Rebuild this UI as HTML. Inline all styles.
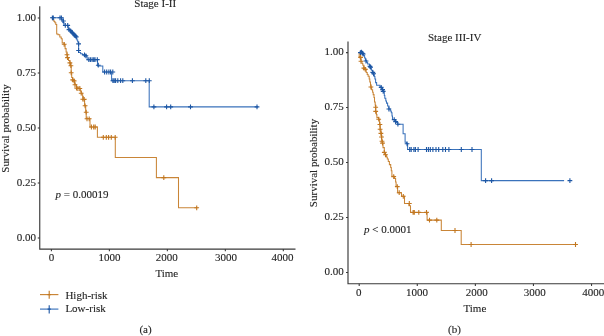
<!DOCTYPE html>
<html><head><meta charset="utf-8"><title>Survival curves</title>
<style>html,body{margin:0;padding:0;background:#fff;}svg{display:block;will-change:transform;}</style>
</head><body>
<svg width="604" height="336" viewBox="0 0 604 336">
<rect width="604" height="336" fill="#fff"/>
<g font-family="Liberation Serif, serif" font-size="11" fill="#262626" stroke="#262626" stroke-width="0.12">
<path d="M39.75 6.3 V249.1 H295.5" stroke="#3a3a3a" stroke-width="1.15" fill="none"/>
<path d="M37.75 238H39.75" stroke="#3a3a3a" stroke-width="1.1"/>
<text x="36" y="240.5" text-anchor="end">0.00</text>
<path d="M37.75 183H39.75" stroke="#3a3a3a" stroke-width="1.1"/>
<text x="36" y="185.5" text-anchor="end">0.25</text>
<path d="M37.75 128H39.75" stroke="#3a3a3a" stroke-width="1.1"/>
<text x="36" y="130.5" text-anchor="end">0.50</text>
<path d="M37.75 73H39.75" stroke="#3a3a3a" stroke-width="1.1"/>
<text x="36" y="75.5" text-anchor="end">0.75</text>
<path d="M37.75 18H39.75" stroke="#3a3a3a" stroke-width="1.1"/>
<text x="36" y="20.5" text-anchor="end">1.00</text>
<path d="M51.4 249.1V251.3" stroke="#3a3a3a" stroke-width="1.1"/>
<text x="51.4" y="261.4" text-anchor="middle">0</text>
<path d="M109.38 249.1V251.3" stroke="#3a3a3a" stroke-width="1.1"/>
<text x="109.38" y="261.4" text-anchor="middle">1000</text>
<path d="M167.36 249.1V251.3" stroke="#3a3a3a" stroke-width="1.1"/>
<text x="166.76" y="261.4" text-anchor="middle">2000</text>
<path d="M225.34 249.1V251.3" stroke="#3a3a3a" stroke-width="1.1"/>
<text x="225.89" y="261.4" text-anchor="middle">3000</text>
<path d="M283.32 249.1V251.3" stroke="#3a3a3a" stroke-width="1.1"/>
<text x="282.57" y="261.4" text-anchor="middle">4000</text>
<path d="M348 41.5 V283.75 H605" stroke="#3a3a3a" stroke-width="1.15" fill="none"/>
<path d="M346 272.5H348" stroke="#3a3a3a" stroke-width="1.1"/>
<text x="343.7" y="275" text-anchor="end">0.00</text>
<path d="M346 217.53H348" stroke="#3a3a3a" stroke-width="1.1"/>
<text x="343.7" y="220.03" text-anchor="end">0.25</text>
<path d="M346 162.55H348" stroke="#3a3a3a" stroke-width="1.1"/>
<text x="343.7" y="165.05" text-anchor="end">0.50</text>
<path d="M346 107.57H348" stroke="#3a3a3a" stroke-width="1.1"/>
<text x="343.7" y="110.07" text-anchor="end">0.75</text>
<path d="M346 52.6H348" stroke="#3a3a3a" stroke-width="1.1"/>
<text x="343.7" y="55.1" text-anchor="end">1.00</text>
<path d="M359.2 283.75V285.95" stroke="#3a3a3a" stroke-width="1.1"/>
<text x="358.8" y="295.9" text-anchor="middle">0</text>
<path d="M417.28 283.75V285.95" stroke="#3a3a3a" stroke-width="1.1"/>
<text x="416.88" y="295.9" text-anchor="middle">1000</text>
<path d="M475.36 283.75V285.95" stroke="#3a3a3a" stroke-width="1.1"/>
<text x="476.86" y="295.9" text-anchor="middle">2000</text>
<path d="M533.44 283.75V285.95" stroke="#3a3a3a" stroke-width="1.1"/>
<text x="534.84" y="295.9" text-anchor="middle">3000</text>
<path d="M591.52 283.75V285.95" stroke="#3a3a3a" stroke-width="1.1"/>
<text x="593.22" y="295.9" text-anchor="middle">4000</text>
<text x="134.3" y="6.6">Stage I-II</text>
<text x="427.9" y="41.3">Stage III-IV</text>
<text x="166.8" y="277" text-anchor="middle">Time</text>
<text x="474.9" y="311.8" text-anchor="middle">Time</text>
<text transform="translate(9.4 128.5) rotate(-90)" text-anchor="middle">Survival probability</text>
<text transform="translate(317.4 163) rotate(-90)" text-anchor="middle">Survival probability</text>
<text x="55.5" y="197.9"><tspan font-style="italic">p</tspan> = 0.00019</text>
<text x="364" y="232.9"><tspan font-style="italic">p</tspan> &lt; 0.0001</text>
<text x="145.5" y="333.2" text-anchor="middle">(a)</text>
<text x="454.5" y="333.2" text-anchor="middle">(b)</text>
<text x="65.4" y="298.8">High-risk</text>
<text x="65.4" y="311.5">Low-risk</text>
</g>
<path d="M40 294.6H58.4" stroke="#c98537" stroke-width="1.15" fill="none"/>
<path d="M49.2 290.8V298.7M47.6 294.6H50.8" stroke="#c27720" stroke-width="1.1" fill="none"/>
<path d="M40 309.1H58.4" stroke="#3a72bb" stroke-width="1.15" fill="none"/>
<path d="M49.2 305.2V313.4M47.6 309.1H50.8" stroke="#1c56a4" stroke-width="1.1" fill="none"/>
<g fill="none" stroke-linejoin="miter" stroke-linecap="butt">
<path d="M51.4 17.8 H53 V20 H54 V21.4 H54.9 V22.7 H55.8 V24.5 H56.7 V33.9 H58 V34.8 H59.8 V37 H61.2 V38.8 H62.2 V42.9 H64.2 V44.6 H65.1 V48.6 H66.1 V51.9 H67 V54.8 H67.5 V57.6 H68.5 V60.5 H69.9 V62.9 H70.6 V65.7 H71.2 V72.8 H71.7 V77.5 H72.7 V79.9 H74.1 V80.9 H74.6 V83.2 H75 V84.7 H76.5 V88 H79.8 V88.5 H80.3 V90.9 H81.2 V93.2 H82.2 V95 H82.7 V96.6 H83.3 V99.4 H84.6 V105.8 H85.7 V112.2 H86.2 V118.8 H90 V127 H97.4 V137.3 H115.3 V157.5 H156.4 V177.6 H178.5 V207.8 H197.5" stroke="#c98537" stroke-width="1.05"/>
<path d="M61.8 44.3h4.8M64.2 41.9v4.8M64.6 54.8h4.8M67 52.4v4.8M65.1 57.6h4.8M67.5 55.2v4.8M67.5 62.9h4.8M69.9 60.5v4.8M68.5 65.7h4.8M70.9 63.3v4.8M68.8 72.8h4.8M71.2 70.4v4.8M70.3 79.9h4.8M72.7 77.5v4.8M71.7 80.9h4.8M74.1 78.5v4.8M72.6 84.7h4.8M75 82.3v4.8M74.1 88h4.8M76.5 85.6v4.8M75.5 88.5h4.8M77.9 86.1v4.8M77.4 88.5h4.8M79.8 86.1v4.8M78.8 93.2h4.8M81.2 90.8v4.8M80.4 99.2h4.8M82.8 96.8v4.8M81.8 99.4h4.8M84.2 97v4.8M82.7 105.8h4.8M85.1 103.4v4.8M83.8 112.2h4.8M86.2 109.8v4.8M84.6 118.8h4.8M87 116.4v4.8M86.8 118.8h4.8M89.2 116.4v4.8M89 127h4.8M91.4 124.6v4.8M91.3 127h4.8M93.7 124.6v4.8M92.8 127h4.8M95.2 124.6v4.8M100.9 137.3h4.8M103.3 134.9v4.8M103.9 137.3h4.8M106.3 134.9v4.8M106.2 137.3h4.8M108.6 134.9v4.8M108.9 137.3h4.8M111.3 134.9v4.8M112.8 137.3h4.8M115.2 134.9v4.8M161.4 177.6h4.8M163.8 175.2v4.8M194.3 207.8h4.8M196.7 205.4v4.8" stroke="#c27720" stroke-width="1.1" fill="none"/>
<path d="M51.4 17.8 H62 V19.6 H62.8 V22.4 H64 V25.4 H68.2 V28.4 H69.2 V29.6 H70.2 V30.8 H71.2 V32 H72.2 V33 H73.2 V34 H74.2 V35 H75.2 V36.2 H76.2 V38 H76.9 V40 H77.7 V42 H78.6 V52.4 H80.6 V53.8 H82.4 V55 H84.5 V55.8 H86.2 V56.8 H87.2 V59.6 H97.5 V65.9 H102.8 V72 H111.6 V80.7 H149.2 V106.85 H258" stroke="#3a72bb" stroke-width="1.05"/>
<path d="M50 17.8h4.8M52.4 15.4v4.8M50.9 17.8h4.8M53.3 15.4v4.8M57.6 17.8h4.8M60 15.4v4.8M59 17.8h4.8M61.4 15.4v4.8M61 21h4.8M63.4 18.6v4.8M62.9 25.4h4.8M65.3 23v4.8M65.3 25.4h4.8M67.7 23v4.8M66.6 29.6h4.8M69 27.2v4.8M68.2 30.8h4.8M70.6 28.4v4.8M69.4 32.2h4.8M71.8 29.8v4.8M70.4 33.3h4.8M72.8 30.9v4.8M71.5 34.3h4.8M73.9 31.9v4.8M72.7 35.6h4.8M75.1 33.2v4.8M73.8 36.9h4.8M76.2 34.5v4.8M76.2 43.9h4.8M78.6 41.5v4.8M76.2 50.5h4.8M78.6 48.1v4.8M82.1 54.8h4.8M84.5 52.4v4.8M83.5 55.8h4.8M85.9 53.4v4.8M86.4 59.6h4.8M88.8 57.2v4.8M88 59.6h4.8M90.4 57.2v4.8M89.7 59.6h4.8M92.1 57.2v4.8M91.3 59.6h4.8M93.7 57.2v4.8M92.6 59.6h4.8M95 57.2v4.8M94.9 59.6h4.8M97.3 57.2v4.8M95.9 65.2h4.8M98.3 62.8v4.8M102.2 72h4.8M104.6 69.6v4.8M104.3 72h4.8M106.7 69.6v4.8M106.5 72h4.8M108.9 69.6v4.8M108.2 72h4.8M110.6 69.6v4.8M110.4 72h4.8M112.8 69.6v4.8M110.5 80.7h4.8M112.9 78.3v4.8M111.8 80.7h4.8M114.2 78.3v4.8M113.2 80.7h4.8M115.6 78.3v4.8M115.4 80.7h4.8M117.8 78.3v4.8M118.2 80.7h4.8M120.6 78.3v4.8M120.4 80.7h4.8M122.8 78.3v4.8M130 80.7h4.8M132.4 78.3v4.8M143.4 80.7h4.8M145.8 78.3v4.8M146.9 80.7h4.8M149.3 78.3v4.8M151.5 106.85h4.8M153.9 104.45v4.8M164.2 106.85h4.8M166.6 104.45v4.8M168.3 106.85h4.8M170.7 104.45v4.8M188.1 106.85h4.8M190.5 104.45v4.8M254.6 106.85h4.8M257 104.45v4.8" stroke="#1c56a4" stroke-width="1.1" fill="none"/>
<path d="M359.2 52.6 V56.4 H360.2 V58.6 H361 V61.4 H362 V63.4 H362.8 V65.2 H363.9 V68.1 H365.3 V69.6 H366.2 V72.4 H367.2 V74.4 H368.1 V76.2 H369.2 V79 H369.8 V82 H370.5 V85 H370.9 V87.2 H371.6 V89.7 H372.6 V92.2 H373.2 V94.6 H374 V97.5 H374.5 V101.9 H375.2 V105 H375.7 V111.4 H376.4 V114.6 H376.9 V117.6 H378.7 V119.3 H379.6 V124.5 H380.2 V129.8 H381 V132.6 H381.4 V135.2 H381.8 V140.5 H382.5 V143 H383 V147.6 H384.3 V152.4 H385.5 V154.8 H386.4 V157 H387.3 V159 H388.3 V161.5 H389.4 V164.6 H390.7 V167.5 H391.3 V170.7 H391.9 V176.2 H394.4 V178.5 H395.6 V182 H396.1 V186.2 H397.6 V192.7 H401.5 V196.3 H404.5 V203.5 H409 V205.8 H410.5 V212.4 H427.1 V220.1 H441.3 V230.5 H461.2 V244.5 H577.5" stroke="#c98537" stroke-width="1.05"/>
<path d="M358.2 57.4h4.8M360.6 55v4.8M358.6 61.3h4.8M361 58.9v4.8M361.5 68.1h4.8M363.9 65.7v4.8M362.9 69.4h4.8M365.3 67v4.8M368.5 87h4.8M370.9 84.6v4.8M373.3 107.3h4.8M375.7 104.9v4.8M373.3 111.4h4.8M375.7 109v4.8M376.3 119.2h4.8M378.7 116.8v4.8M377.5 124.5h4.8M379.9 122.1v4.8M377.7 129.2h4.8M380.1 126.8v4.8M378.5 133.4h4.8M380.9 131v4.8M379.1 137h4.8M381.5 134.6v4.8M379.6 141.3h4.8M382 138.9v4.8M380.1 143.1h4.8M382.5 140.7v4.8M381.9 152.4h4.8M384.3 150v4.8M383.1 154.8h4.8M385.5 152.4v4.8M391.3 176.6h4.8M393.7 174.2v4.8M394.9 186.6h4.8M397.3 184.2v4.8M396.8 192.7h4.8M399.2 190.3v4.8M400.9 196.3h4.8M403.3 193.9v4.8M406.9 203.5h4.8M409.3 201.1v4.8M410.7 212.4h4.8M413.1 210v4.8M411.9 212.4h4.8M414.3 210v4.8M416.4 212.4h4.8M418.8 210v4.8M424.1 212.4h4.8M426.5 210v4.8M427.1 220.1h4.8M429.5 217.7v4.8M434.4 220.1h4.8M436.8 217.7v4.8M452.6 230.5h4.8M455 228.1v4.8M468.7 244.5h4.8M471.1 242.1v4.8M573.1 244.5h4.8M575.5 242.1v4.8" stroke="#c27720" stroke-width="1.1" fill="none"/>
<path d="M359.2 52.6 H362.6 V53.4 H363.6 V55.3 H364.6 V58 H365.4 V60.4 H366.5 V62.2 H367.6 V64 H369.4 V66 H370.8 V68 H371.4 V70.3 H372.6 V72.3 H373.5 V74.2 H374.3 V76.5 H374.9 V79 H375.6 V82.6 H376.6 V85.2 H380 V86.8 H381.4 V88.6 H382.6 V90.4 H383.6 V92.2 H384.3 V95.5 H384.8 V98.3 H385.8 V101 H386.5 V103.1 H387.6 V106 H388.9 V109 H390.3 V111 H391.3 V112.8 H392 V116 H392.5 V119.4 H395 V121 H396.1 V122.4 H397.6 V124.3 H403.1 V133.7 H405.1 V142.3 H406.6 V143.8 H407.6 V149.5 H481.3 V180.6 H564.1" stroke="#3a72bb" stroke-width="1.05"/>
<path d="M358 52.6h4.8M360.4 50.2v4.8M359 52.2h4.8M361.4 49.8v4.8M360 53.2h4.8M362.4 50.8v4.8M360.8 54h4.8M363.2 51.6v4.8M363.6 61h4.8M366 58.6v4.8M367.5 66.3h4.8M369.9 63.9v4.8M368.2 67.2h4.8M370.6 64.8v4.8M370.4 72.4h4.8M372.8 70v4.8M371.2 73.8h4.8M373.6 71.4v4.8M378.8 87.4h4.8M381.2 85v4.8M380.2 89.6h4.8M382.6 87.2v4.8M380.8 91.4h4.8M383.2 89v4.8M386.5 109h4.8M388.9 106.6v4.8M391.8 119.6h4.8M394.2 117.2v4.8M393.2 121.6h4.8M395.6 119.2v4.8M395.5 124.2h4.8M397.9 121.8v4.8M404.7 143.8h4.8M407.1 141.4v4.8M407.3 149.5h4.8M409.7 147.1v4.8M408.8 149.5h4.8M411.2 147.1v4.8M411.5 149.5h4.8M413.9 147.1v4.8M413 149.5h4.8M415.4 147.1v4.8M415.7 149.5h4.8M418.1 147.1v4.8M424.1 149.5h4.8M426.5 147.1v4.8M426 149.5h4.8M428.4 147.1v4.8M427.9 149.5h4.8M430.3 147.1v4.8M430.5 149.5h4.8M432.9 147.1v4.8M433.6 149.5h4.8M436 147.1v4.8M436.3 149.5h4.8M438.7 147.1v4.8M440.4 149.5h4.8M442.8 147.1v4.8M443.1 149.5h4.8M445.5 147.1v4.8M446.5 149.5h4.8M448.9 147.1v4.8M458.9 149.5h4.8M461.3 147.1v4.8M469.6 149.5h4.8M472 147.1v4.8M483.2 180.6h4.8M485.6 178.2v4.8M489.2 180.6h4.8M491.6 178.2v4.8M567.5 180.6h4.8M569.9 178.2v4.8" stroke="#1c56a4" stroke-width="1.1" fill="none"/>
</g>
</svg>
</body></html>
